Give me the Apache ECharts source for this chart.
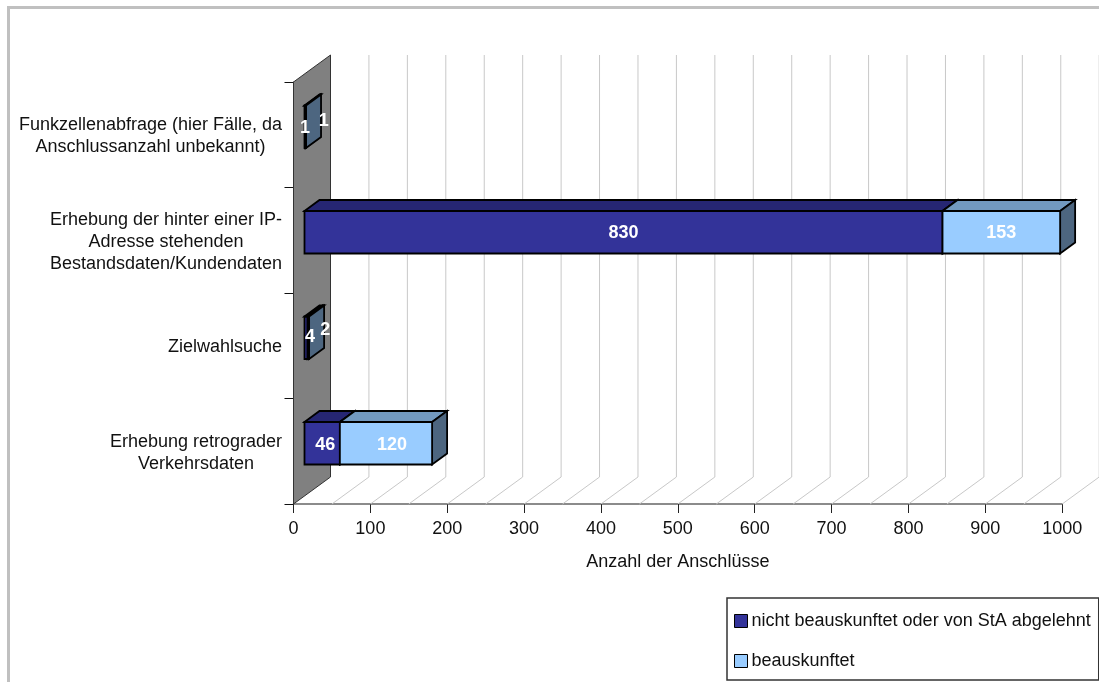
<!DOCTYPE html>
<html>
<head>
<meta charset="utf-8">
<style>html,body{margin:0;padding:0;background:#fff}#chart{width:1099px;height:682px}</style>
<script src="https://cdn.jsdelivr.net/npm/echarts@6/dist/echarts.min.js"></script>
</head>
<body>
<div id="chart"></div>
<script>
// Chart data
const categories = [
  'Funkzellenabfrage (hier Fälle, da\nAnschlussanzahl unbekannt)',
  'Erhebung der hinter einer IP-\nAdresse stehenden\nBestandsdaten/Kundendaten',
  'Zielwahlsuche',
  'Erhebung retrograder\nVerkehrsdaten'
];
const nichtBeauskunftet = [1, 830, 4, 46];
const beauskunftet = [1, 153, 2, 120];
const gridValues = [50,100,150,200,250,300,350,400,450,500,550,600,650,700,750,800,850,900,950,1000];
const seriesNames = ['nicht beauskunftet oder von StA abgelehnt', 'beauskunftet'];

// Oblique projection of the 3D look
const FONT = '"Liberation Sans", Arial, sans-serif';
const FONT_SIZE = 18;
const WALL_DX = 37, WALL_DY = 27;
const BAR_DX = 15, BAR_DY = 11;
const BAR_FRACTION = 0.403;
const faces = [
  { front: '#333399', top: '#262673', side: '#1a1a4d' },
  { front: '#99CCFF', top: '#7299BF', side: '#4D6680' }
];
// Data label nudges, [dx, dy] per series and category
const labelNudges = [
  [[0, 0], [0, 0], [4, -2], [3, 1]],
  [[18, -7], [0, 0], [17, -9], [6, 1]]
];

// Each multi-line category label is centred on its own longest line
const measure = document.createElement('canvas').getContext('2d');
measure.font = FONT_SIZE + 'px "Liberation Sans", Arial, sans-serif';
const richLabels = {};
categories.forEach((c, i) => {
  richLabels['c' + i] = {
    width: Math.ceil(Math.max(...c.split('\n').map(l => measure.measureText(l).width))),
    align: 'center',
    fontSize: FONT_SIZE,
    fontFamily: FONT,
    lineHeight: 22,
    color: '#111'
  };
});

function poly(points, fill) {
  return {
    type: 'polygon',
    shape: { points },
    style: { fill, stroke: '#000', lineWidth: 1.8, lineJoin: 'miter' }
  };
}

function renderBar(seriesIndex) {
  return function (params, api) {
    const value = api.value(0), base = api.value(1), cat = api.value(2);
    const band = api.size([0, 1])[1];
    const h = band * BAR_FRACTION;
    const a = api.coord([base, cat]);
    const b = api.coord([base + value, cat]);
    const ox = (WALL_DX - BAR_DX) / 2, oy = (WALL_DY - BAR_DY) / 2;
    const x0 = a[0] + ox, x1 = b[0] + ox;
    const yT = a[1] - oy - h / 2, yB = a[1] - oy + h / 2;
    const c = faces[seriesIndex];
    const nudge = labelNudges[seriesIndex][cat];
    return {
      type: 'group',
      children: [
        poly([[x0, yT], [x0 + BAR_DX, yT - BAR_DY], [x1 + BAR_DX, yT - BAR_DY], [x1, yT]], c.top),
        poly([[x1, yT], [x1 + BAR_DX, yT - BAR_DY], [x1 + BAR_DX, yB - BAR_DY], [x1, yB]], c.side),
        poly([[x0, yT], [x1, yT], [x1, yB], [x0, yB]], c.front),
        {
          type: 'text',
          z2: 50,
          style: {
            text: String(value),
            x: (x0 + x1) / 2 + nudge[0],
            y: (yT + yB) / 2 + nudge[1] + 1,
            align: 'center',
            verticalAlign: 'middle',
            fill: '#fff',
            font: 'bold ' + FONT_SIZE + 'px ' + FONT
          }
        }
      ]
    };
  };
}

// Grey side wall at value 0, and the floor/back grid lines
function renderWallLine(params, api) {
  const v = api.value(0);
  const cs = params.coordSys;
  const x = api.coord([v, 0])[0];
  const top = cs.y, bottom = cs.y + cs.height;
  if (v === 0) {
    return {
      type: 'polygon',
      shape: { points: [[x, top], [x + WALL_DX, top - WALL_DY], [x + WALL_DX, bottom - WALL_DY], [x, bottom]] },
      style: { fill: '#808080', stroke: '#333', lineWidth: 1 }
    };
  }
  return {
    type: 'polyline',
    shape: { points: [[x, bottom], [x + WALL_DX, bottom - WALL_DY], [x + WALL_DX, top - WALL_DY]] },
    style: { fill: 'none', stroke: '#c8c8c8', lineWidth: 1 }
  };
}

const stackBases = nichtBeauskunftet.slice();

const chart = echarts.init(document.getElementById('chart'), null, { renderer: 'canvas' });
chart.setOption({
  animation: false,
  backgroundColor: '#fff',
  textStyle: { fontFamily: FONT },
  graphic: [
    { type: 'rect', silent: true, shape: { x: 7, y: 6, width: 1092, height: 3 }, style: { fill: '#c0c0c0' } },
    { type: 'rect', silent: true, shape: { x: 7, y: 6, width: 3, height: 676 }, style: { fill: '#c0c0c0' } }
  ],
  grid: { left: 293.5, top: 82, width: 768.7, height: 422, containLabel: false },
  xAxis: {
    type: 'value',
    min: 0,
    max: 1000,
    interval: 100,
    name: 'Anzahl der Anschlüsse',
    nameLocation: 'middle',
    nameGap: 49,
    nameTextStyle: { fontSize: FONT_SIZE, color: '#111', fontFamily: FONT },
    splitLine: { show: false },
    axisLine: { show: true, lineStyle: { color: '#666', width: 1.5 } },
    axisTick: { show: true, length: 9, lineStyle: { color: '#222', width: 1 } },
    axisLabel: { fontSize: FONT_SIZE, color: '#111', margin: 16, fontFamily: FONT, hideOverlap: false, formatter: v => String(v) }
  },
  yAxis: {
    type: 'category',
    inverse: true,
    data: categories,
    axisLine: { show: true, lineStyle: { color: '#111', width: 1 } },
    axisTick: { show: true, length: 9, lineStyle: { color: '#111', width: 1 } },
    axisLabel: {
      margin: 11,
      interval: 0,
      align: 'right',
      padding: [3, 0, 0, 0],
      rich: richLabels,
      formatter: (value, index) => value.split('\n').map(l => '{c' + index + '|' + l + '}').join('\n')
    }
  },
  legend: {
    show: true,
    orient: 'vertical',
    left: 727,
    top: 598,
    padding: [14, 8, 10, 7],
    itemWidth: 13,
    itemHeight: 13,
    itemGap: 22,
    icon: 'rect',
    backgroundColor: '#fff',
    borderColor: '#333',
    borderWidth: 1.5,
    borderRadius: 0,
    itemStyle: { borderColor: '#000', borderWidth: 1 },
    textStyle: { fontSize: FONT_SIZE, color: '#111', fontFamily: FONT, padding: [0, 0, 0, -1] },
    data: seriesNames
  },
  series: [
    {
      type: 'custom',
      name: 'Wand',
      silent: true,
      z: 1,
      clip: false,
      renderItem: renderWallLine,
      data: [0].concat(gridValues).map(v => [v])
    },
    {
      type: 'custom',
      name: seriesNames[0],
      z: 3,
      clip: false,
      itemStyle: { color: faces[0].front },
      renderItem: renderBar(0),
      encode: { x: 0, y: 2 },
      data: nichtBeauskunftet.map((v, i) => [v, 0, i])
    },
    {
      type: 'custom',
      name: seriesNames[1],
      z: 3,
      clip: false,
      itemStyle: { color: faces[1].front },
      renderItem: renderBar(1),
      encode: { x: 0, y: 2 },
      data: beauskunftet.map((v, i) => [v, stackBases[i], i])
    }
  ]
});
</script>
</body>
</html>
